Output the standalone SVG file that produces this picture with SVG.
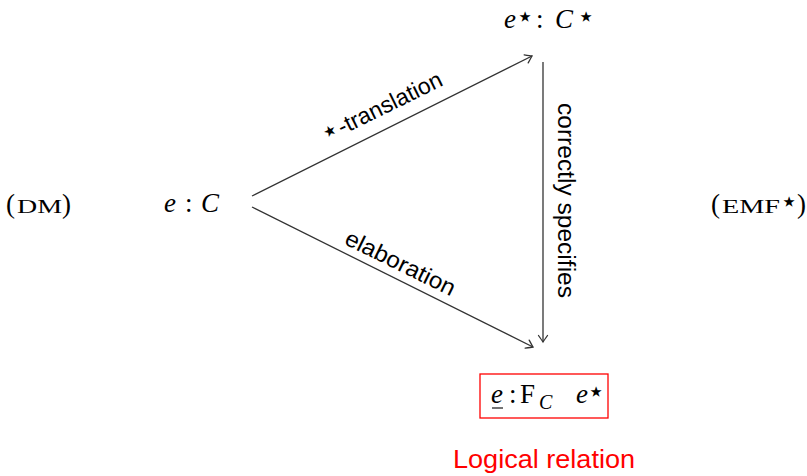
<svg xmlns="http://www.w3.org/2000/svg" width="807" height="476" viewBox="0 0 807 476">
<style>
.m{font-family:"Liberation Serif","DejaVu Serif",serif;font-size:27px;fill:#000}
.i{font-style:italic}
.st{font-family:"DejaVu Sans",sans-serif;font-size:29px;font-style:normal}
.sc{font-size:18px}
.lbl{font-family:"Liberation Sans","DejaVu Sans",sans-serif;font-size:23px;fill:#000}
.edge{stroke:#333;stroke-width:1.3;fill:none}
</style>
<defs>
<marker id="arr" markerUnits="userSpaceOnUse" markerWidth="14" markerHeight="14" viewBox="-8 -7 10 14" refX="0" refY="0" orient="auto">
<path d="M-6.5,-4.5 Q-1.5,-1 0,0 Q-1.5,1 -6.5,4.5" stroke="#333" stroke-width="1.3" fill="none" stroke-linecap="round"/>
</marker>
</defs>
<rect width="807" height="476" fill="#fff"/>
<g id="connectors">
<line class="edge" x1="252" y1="196" x2="532" y2="56" marker-end="url(#arr)"/>
<line class="edge" x1="252" y1="207" x2="533" y2="347" marker-end="url(#arr)"/>
<line class="edge" x1="543" y1="62" x2="543" y2="342" marker-end="url(#arr)"/>
<text class="lbl" transform="translate(385,114) rotate(-26.2)" text-anchor="middle"><tspan font-family="DejaVu Sans, sans-serif" font-size="29px">⋆</tspan>-translation</text>
<text class="lbl" transform="translate(397,270) rotate(26.2)" text-anchor="middle" textLength="120" lengthAdjust="spacingAndGlyphs">elaboration</text>
<text class="lbl" transform="translate(558,200.5) rotate(90)" text-anchor="middle" textLength="195" lengthAdjust="spacingAndGlyphs">correctly specifies</text>
</g>
<g id="node-dm">
<text class="m" x="6" y="213">(<tspan class="sc" x="17" textLength="45" lengthAdjust="spacingAndGlyphs">DM</tspan><tspan x="62">)</tspan></text>
</g>
<g id="node-emf">
<text class="m" x="711" y="213">(<tspan class="sc" x="722" textLength="58" lengthAdjust="spacingAndGlyphs">EMF</tspan><tspan class="st" x="780" y="211" font-size="26px">⋆</tspan><tspan x="797" y="213">)</tspan></text>
</g>
<g id="node-e">
<text class="m" x="164" y="212"><tspan class="i">e</tspan><tspan x="185">:</tspan><tspan class="i" x="201">C</tspan></text>
</g>
<g id="node-estar">
<text class="m" x="504" y="28"><tspan class="i">e</tspan><tspan class="st" x="516" y="26">⋆</tspan><tspan x="536" y="28">:</tspan><tspan class="i" x="555">C</tspan><tspan class="st" x="577" y="26">⋆</tspan></text>
</g>
<g id="node-rel">
<rect x="480" y="374" width="128" height="44" fill="none" stroke="#ff0000" stroke-width="1.3"/>
<line x1="492" y1="408" x2="503" y2="408" stroke="#000" stroke-width="1.1"/>
<text class="m" x="491" y="403"><tspan class="i">e</tspan><tspan x="509">:</tspan><tspan x="520">F</tspan><tspan class="i" x="539" y="409" font-size="20px">C</tspan><tspan class="i" x="576" y="403">e</tspan><tspan class="st" x="587" y="401">⋆</tspan></text>
</g>
<g id="caption">
<text x="453" y="468" font-family="Liberation Sans, DejaVu Sans, sans-serif" font-size="26px" fill="#ff0000" textLength="182" lengthAdjust="spacingAndGlyphs">Logical relation</text>
</g>
</svg>
